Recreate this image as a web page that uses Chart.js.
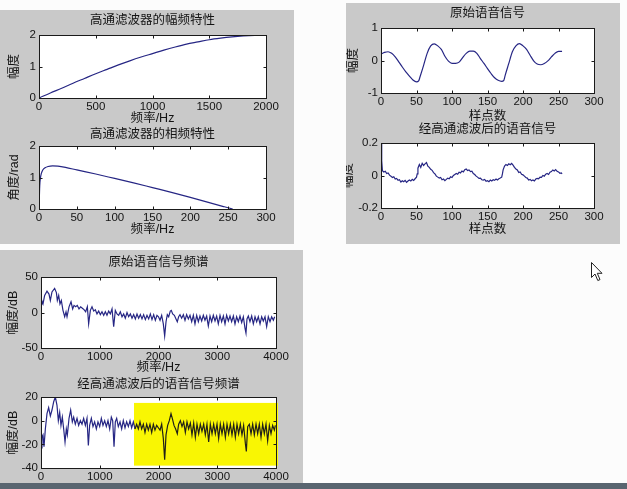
<!DOCTYPE html>
<html>
<head>
<meta charset="utf-8">
<script src="https://cdn.jsdelivr.net/npm/chart.js@4.4.1/dist/chart.umd.min.js"></script>
<style>
  html, body { margin: 0; padding: 0; background: #fcfcfc; }
  body { position: relative; width: 627px; height: 489px; overflow: hidden; }
  .panel { position: absolute; background: #c9c9c9; }
  canvas { position: absolute; }
  #taskbar { position: absolute; left: 0; top: 483px; width: 627px; height: 6px; background: #596570; }
  #pointer { position: absolute; left: 591px; top: 262px; }
</style>
</head>
<body>
<!-- three figure windows -->
<div class="panel" style="left:0;top:10px;width:294px;height:234px"></div>
<div class="panel" style="left:346px;top:3px;width:274px;height:241px"></div>
<div class="panel" style="left:0;top:250px;width:303px;height:233px"></div>

<canvas id="magChart"></canvas>
<canvas id="phaseChart"></canvas>
<canvas id="rawChart"></canvas>
<canvas id="filtChart"></canvas>
<canvas id="rawSpecChart"></canvas>
<canvas id="filtSpecChart"></canvas>

<div id="taskbar"></div>
<svg id="pointer" width="13" height="20" viewBox="0 0 13 20">
  <polygon points="0.5,0.5 0.5,15.5 4,12 6.8,18.5 9,17.6 6.3,11.3 11,11.3" fill="#fff" stroke="#222" stroke-width="1"/>
</svg>

<script>
// ---- 高通滤波器的幅频特性 ----
const magFreq = [0, 100, 200, 300, 400, 500, 600, 700, 800, 900, 1000,
                 1100, 1200, 1300, 1400, 1500, 1600, 1700, 1800, 1900, 2000];
const magGain = [0, 0.16, 0.31, 0.47, 0.62, 0.77, 0.91, 1.05, 1.18, 1.30, 1.41,
                 1.52, 1.62, 1.71, 1.78, 1.85, 1.90, 1.94, 1.97, 1.99, 2.0];

// ---- 高通滤波器的相频特性 ----
const phaseBin = [0, 1, 2, 3, 5, 8, 12, 18, 25, 35, 50, 75, 100, 125, 150, 175, 200, 225, 245, 256];
const phaseRad = [0, 0.75, 1.0, 1.12, 1.24, 1.31, 1.35, 1.37, 1.36, 1.32, 1.24, 1.11, 0.97, 0.83,
                  0.68, 0.53, 0.37, 0.2, 0.07, 0];

// ---- 原始语音信号 ----
const rawSample = [0, 5, 10, 15, 20, 25, 30, 35, 40, 45, 50, 53, 55, 60, 65, 70, 75, 80, 85, 90,
                   95, 100, 105, 110, 115, 120, 125, 130, 135, 140, 145, 150, 155, 160, 165, 170,
                   173, 175, 180, 185, 190, 195, 200, 205, 210, 215, 220, 225, 230, 235, 240, 245,
                   250, 255];
const rawValue = [0.2, 0.25, 0.27, 0.22, 0.11, -0.04, -0.2, -0.35, -0.48, -0.6, -0.66, -0.63,
                  -0.5, -0.15, 0.22, 0.45, 0.51, 0.45, 0.34, 0.13, -0.02, -0.09, -0.09, -0.05,
                  0.09, 0.22, 0.29, 0.29, 0.22, 0.06, -0.09, -0.25, -0.4, -0.53, -0.61, -0.64,
                  -0.61, -0.45, -0.09, 0.27, 0.45, 0.52, 0.45, 0.34, 0.16, -0.01, -0.11, -0.13,
                  -0.09, -0.01, 0.11, 0.22, 0.28, 0.28];

// ---- 经高通滤波后的语音信号 ----
const filtSample = [0, 1, 2, 4, 6, 8, 10, 12, 14, 16, 18, 20, 22, 24, 26, 28, 30, 32, 34, 36, 38,
                    40, 42, 44, 46, 48, 50, 51, 52, 54, 56, 58, 60, 62, 64, 66, 68, 70, 72, 74, 76,
                    78, 80, 82, 84, 86, 88, 90, 92, 94, 96, 98, 100, 102, 104, 106, 108, 110, 112,
                    114, 116, 118, 120, 122, 124, 126, 128, 130, 132, 134, 136, 138, 140, 142, 144,
                    146, 148, 150, 152, 154, 156, 158, 160, 162, 164, 166, 168, 170, 171, 172, 174,
                    176, 178, 180, 182, 184, 186, 188, 190, 192, 194, 196, 198, 200, 202, 204, 206,
                    208, 210, 212, 214, 216, 218, 220, 222, 224, 226, 228, 230, 232, 234, 236, 238,
                    240, 242, 244, 246, 248, 250, 252, 254, 255];
const filtValue = [0.2, 0.09, 0.03, 0.022, 0.026, 0.012, 0.016, 0.002, -0.004, -0.012, -0.008,
                   -0.022, -0.018, -0.03, -0.026, -0.04, -0.032, -0.038, -0.03, -0.042, -0.034,
                   -0.028, -0.034, -0.024, -0.03, -0.02, -0.01, 0.01, 0.045, 0.068, 0.05, 0.075,
                   0.062, 0.072, 0.08, 0.058, 0.05, 0.038, 0.032, 0.018, 0.01, -0.004, -0.01,
                   -0.016, -0.012, -0.026, -0.022, -0.032, -0.024, -0.016, -0.02, -0.008, -0.012,
                   0.0, 0.006, 0.012, 0.008, 0.02, 0.016, 0.028, 0.022, 0.036, 0.04, 0.03, 0.034,
                   0.024, 0.026, 0.012, 0.006, -0.004, -0.01, -0.018, -0.016, -0.026, -0.028,
                   -0.024, -0.036, -0.032, -0.038, -0.028, -0.034, -0.026, -0.03, -0.022, -0.028,
                   -0.02, -0.016, -0.01, 0.01, 0.035, 0.058, 0.068, 0.062, 0.072, 0.066, 0.074,
                   0.064, 0.05, 0.04, 0.034, 0.018, 0.022, 0.008, 0.004, -0.004, -0.012, -0.016,
                   -0.028, -0.024, -0.032, -0.028, -0.034, -0.022, -0.018, -0.02, -0.01, -0.012,
                   0.0, -0.004, 0.008, 0.012, 0.006, 0.02, 0.024, 0.034, 0.028, 0.036, 0.026,
                   0.022, 0.014, 0.016, 0.01];

// ---- 原始语音信号频谱 (dB) ----
const rawSpecFreq = [0, 17, 34, 62, 102, 136, 159, 187, 232, 262,
                     278, 301, 323, 346, 374, 403, 426, 443, 477, 511,
                     539, 562, 590, 618, 647, 675, 704, 732, 760, 789,
                     811, 840, 868, 897, 925, 953, 982, 1010, 1038, 1067,
                     1095, 1123, 1152, 1180, 1209, 1237, 1265, 1294, 1322, 1350,
                     1379, 1407, 1435, 1464, 1492, 1521, 1549, 1577, 1606, 1634,
                     1662, 1691, 1719, 1747, 1776, 1804, 1833, 1861, 1889, 1918,
                     1946, 1974, 2000, 2026, 2054, 2082, 2105, 2128, 2150, 2173,
                     2201, 2218, 2241, 2270, 2298, 2320, 2343, 2366, 2394, 2423,
                     2451, 2479, 2508, 2536, 2565, 2593, 2621, 2650, 2678, 2706,
                     2735, 2763, 2791, 2820, 2848, 2877, 2905, 2933, 2962, 2990,
                     3018, 3047, 3075, 3104, 3132, 3160, 3189, 3217, 3245, 3274,
                     3302, 3330, 3359, 3387, 3416, 3444, 3472, 3489, 3506, 3529,
                     3557, 3586, 3614, 3643, 3671, 3699, 3728, 3756, 3784, 3813,
                     3841, 3869, 3898, 3926, 3955, 3977];
const rawSpecDb = [12, 16, 12, 24, 30, 26, 17, 29, 34, 28,
                   17, 24, 12, 17, 3, -6, 1, -6, 8, 15,
                   5, 10, 8, 10, 5, 8, 6, 4, 1, 8,
                   -16, 3, 8, 2, 4, -2, 2, -3, 1, -4,
                   1, -4, 2, -2, 5, -20, 3, -2, -4, 1,
                   -6, -2, -8, 0, -6, -2, -8, -3, -9, -2,
                   -8, -3, -9, -3, -10, -4, -9, -2, -10, -3,
                   -11, -4, -6, -11, -4, -16, -33, -13, -3, -6,
                   2, 3, -2, -4, -9, -13, -6, -3, -8, -3,
                   -11, -3, -9, -4, -13, -4, -16, -4, -13, -5,
                   -12, -4, -11, -5, -19, -5, -13, -4, -12, -5,
                   -16, -4, -13, -5, -16, -4, -12, -5, -13, -5,
                   -16, -6, -13, -5, -14, -6, -22, -29, -9, -5,
                   -13, -5, -16, -6, -13, -6, -16, -6, -12, -6,
                   -20, -6, -13, -6, -11, -6];

// ---- 经高通滤波后的语音信号频谱 (dB) ----
const filtSpecFreq = [0, 17, 34, 51, 74, 102, 130, 159, 187, 216,
                      244, 272, 295, 318, 340, 363, 386, 409, 431, 448,
                      477, 505, 533, 556, 584, 613, 641, 670, 698, 726,
                      755, 783, 806, 828, 857, 885, 913, 942, 970, 999,
                      1027, 1055, 1084, 1112, 1140, 1169, 1197, 1220, 1243, 1265,
                      1288, 1316, 1345, 1373, 1401, 1430, 1458, 1487, 1515, 1543,
                      1572, 1600, 1628, 1657, 1685, 1713, 1742, 1770, 1799, 1827,
                      1855, 1884, 1912, 1940, 1969, 1997, 2026, 2054, 2082, 2105,
                      2128, 2156, 2184, 2213, 2235, 2264, 2292, 2320, 2343, 2372,
                      2400, 2428, 2457, 2485, 2513, 2542, 2570, 2599, 2627, 2655,
                      2684, 2712, 2740, 2769, 2797, 2825, 2854, 2882, 2911, 2939,
                      2967, 2996, 3024, 3052, 3081, 3109, 3138, 3166, 3194, 3223,
                      3251, 3280, 3308, 3336, 3364, 3393, 3421, 3449, 3478, 3495,
                      3518, 3546, 3575, 3603, 3631, 3660, 3688, 3716, 3745, 3773,
                      3801, 3830, 3858, 3887, 3915, 3943, 3972, 3989];
const filtSpecDb = [-23, -14, -12, -22, -7, 6, 11, 4, 9, 16,
                    20, 13, 0, 7, -4, 3, -7, -18, -7, -12,
                    2, 9, -1, 3, -3, 2, -4, 0, -3, 2,
                    -4, 2, -21, -4, 2, -5, -1, -7, -1, -5,
                    2, -4, 0, -5, 0, -7, 3, 0, -22, -1,
                    2, -5, -1, -7, 0, -6, -1, -5, 0, -6,
                    -1, -7, -3, -7, -1, -7, -3, -10, -3, -8,
                    -3, -10, -3, -8, -4, -6, -8, -3, -15, -33,
                    -12, -4, 0, 6, 2, -4, -7, -11, -3, 0,
                    -5, -1, -10, -1, -7, -2, -12, -2, -14, -3,
                    -11, -3, -9, -3, -12, -3, -18, -3, -11, -3,
                    -11, -3, -15, -3, -11, -3, -14, -3, -11, -3,
                    -12, -3, -14, -3, -11, -3, -12, -4, -19, -26,
                    -5, -3, -11, -3, -12, -3, -11, -3, -14, -3,
                    -11, -3, -17, -4, -11, -4, -8, -4];

// 高亮标记的频段 (Hz, dB)
const markedBand = { from: 1583, to: 4034, top: 15, bottom: -38 };

// ---------------- drawing ----------------
const TRACE = '#262684';
const MARKED_TRACE = '#202018';
const TICK_FAMILY = "'Liberation Sans Narrow','Arial Narrow','Liberation Sans',Arial,sans-serif";
const TEXT_FAMILY = "'Liberation Sans Narrow','Liberation Sans','Noto Sans CJK SC',sans-serif";
const TEXT_SIZE = 12.5;
const LINE_H = TEXT_SIZE * 1.2;
const INK = '#141414';

const pairs = (xs, ys) => xs.map((x, i) => ({ x, y: ys[i] }));
const fmt = v => String(Math.round(v * 100) / 100);

// white axes area, closed box and inward tick marks on all four sides
const axesBox = {
  id: 'axesBox',
  beforeDraw(chart) {
    const { ctx, chartArea: a } = chart;
    ctx.save();
    ctx.fillStyle = '#ffffff';
    ctx.fillRect(a.left, a.top, a.width, a.height);
    ctx.restore();
  },
  afterDraw(chart) {
    const { ctx, chartArea: a, scales: { x, y } } = chart;
    const len = 3;
    const L = Math.round(a.left) + 0.5, R = Math.round(a.right) + 0.5;
    const T = Math.round(a.top) + 0.5, B = Math.round(a.bottom) + 0.5;
    ctx.save();
    ctx.strokeStyle = '#1a1a1a';
    ctx.lineWidth = 1;
    ctx.beginPath();
    x.ticks.forEach(t => {
      const px = Math.round(x.getPixelForValue(t.value)) + 0.5;
      ctx.moveTo(px, B); ctx.lineTo(px, B - len);
      ctx.moveTo(px, T); ctx.lineTo(px, T + len);
    });
    y.ticks.forEach(t => {
      const py = Math.round(y.getPixelForValue(t.value)) + 0.5;
      ctx.moveTo(L, py); ctx.lineTo(L + len, py);
      ctx.moveTo(R, py); ctx.lineTo(R - len, py);
    });
    ctx.stroke();
    ctx.strokeRect(L, T, R - L, B - T);
    ctx.restore();
  }
};

// yellow marker box behind the trace
const bandMarker = {
  id: 'bandMarker',
  beforeDatasetsDraw(chart) {
    const { ctx, scales: { x, y } } = chart;
    const x0 = x.getPixelForValue(markedBand.from), x1 = x.getPixelForValue(markedBand.to);
    const y0 = y.getPixelForValue(markedBand.top), y1 = y.getPixelForValue(markedBand.bottom);
    ctx.save();
    ctx.fillStyle = '#f9f603';
    ctx.fillRect(x0, y0, x1 - x0, y1 - y0);
    ctx.restore();
  }
};

function drawPlot(spec) {
  const top = Math.floor(spec.titleY - LINE_H / 2 - 1);
  const bottom = Math.ceil(spec.xTitleY + LINE_H / 2 + 1);
  const [cx, cr] = spec.span;
  const [L, T, R, B] = spec.plot;
  const canvas = document.getElementById(spec.id);
  canvas.width = cr - cx;
  canvas.height = bottom - top;
  canvas.style.left = cx + 'px';
  canvas.style.top = top + 'px';
  const titleTop = spec.titleY - LINE_H / 2 - top;
  const tickFont = { family: TICK_FAMILY, size: 11.5, lineHeight: 1.2 };
  const textFont = { family: TEXT_FAMILY, size: TEXT_SIZE, weight: 'normal', lineHeight: 1.2 };

  return new Chart(canvas, {
    type: 'line',
    data: {
      datasets: [{
        data: spec.points,
        borderColor: TRACE,
        borderWidth: 1.2,
        pointRadius: 0,
        fill: false,
        tension: spec.smooth ? 0.4 : 0,
        cubicInterpolationMode: spec.smooth ? 'monotone' : 'default',
        segment: spec.segment
      }]
    },
    options: {
      responsive: false,
      animation: false,
      devicePixelRatio: 1,
      events: [],
      layout: { padding: { left: 0, top: 0, bottom: 0, right: cr - R } },
      plugins: {
        legend: { display: false },
        tooltip: { enabled: false },
        title: {
          display: true, text: spec.title, fullSize: false, color: INK, font: textFont,
          padding: { top: titleTop, bottom: (T - top) - titleTop - LINE_H }
        }
      },
      scales: {
        x: {
          type: 'linear', min: spec.x[0], max: spec.x[1],
          ticks: { stepSize: spec.x[2], callback: fmt, font: tickFont, color: INK, padding: 2,
                   maxRotation: 0, autoSkip: false },
          grid: { display: false, drawTicks: false },
          border: { display: false },
          title: { display: true, text: spec.xTitle, color: INK, font: textFont,
                   padding: { top: 0, bottom: bottom - spec.xTitleY - LINE_H / 2 } },
          afterFit: s => { s.height = bottom - B; }
        },
        y: {
          type: 'linear', min: spec.y[0], max: spec.y[1],
          ticks: { stepSize: spec.y[2], callback: fmt, font: tickFont, color: INK, padding: 3,
                   autoSkip: false },
          grid: { display: false, drawTicks: false },
          border: { display: false },
          title: { display: true, text: spec.yTitle, color: INK, font: textFont,
                   padding: { top: spec.yTitleX - cx - LINE_H / 2, bottom: 0 } },
          afterFit: s => { s.width = L - cx; }
        }
      }
    },
    plugins: spec.marked ? [axesBox, bandMarker] : [axesBox]
  });
}

drawPlot({
  id: 'magChart', span: [0, 294], plot: [39, 35, 266, 98],
  titleY: 21, xTitleY: 119, yTitleX: 15,
  title: '高通滤波器的幅频特性', xTitle: '频率/Hz', yTitle: '幅度',
  x: [0, 2000, 500], y: [0, 2, 1], smooth: true,
  points: pairs(magFreq, magGain)
});

drawPlot({
  id: 'phaseChart', span: [0, 294], plot: [39, 146, 266, 209],
  titleY: 134.5, xTitleY: 230, yTitleX: 15,
  title: '高通滤波器的相频特性', xTitle: '频率/Hz', yTitle: '角度/rad',
  x: [0, 300, 50], y: [0, 2, 1], smooth: true,
  points: pairs(phaseBin, phaseRad)
});

drawPlot({
  id: 'rawChart', span: [346, 620], plot: [381, 28, 594, 93],
  titleY: 14, xTitleY: 116.5, yTitleX: 354,
  title: '原始语音信号', xTitle: '样点数', yTitle: '幅度',
  x: [0, 300, 50], y: [-1, 1, 1], smooth: true,
  points: pairs(rawSample, rawValue)
});

drawPlot({
  id: 'filtChart', span: [346, 620], plot: [381, 143, 594, 208],
  titleY: 130, xTitleY: 230, yTitleX: 349,
  title: '经高通滤波后的语音信号', xTitle: '样点数', yTitle: '幅度',
  x: [0, 300, 50], y: [-0.2, 0.2, 0.2], smooth: false,
  points: pairs(filtSample, filtValue)
});

drawPlot({
  id: 'rawSpecChart', span: [0, 303], plot: [41, 277, 276, 348],
  titleY: 263, xTitleY: 368, yTitleX: 14,
  title: '原始语音信号频谱', xTitle: '频率/Hz', yTitle: '幅度/dB',
  x: [0, 4000, 1000], y: [-50, 50, 50], smooth: false,
  points: pairs(rawSpecFreq, rawSpecDb)
});

// the lower window is cut by the bottom bar, so its x-axis title sits below the visible edge
drawPlot({
  id: 'filtSpecChart', span: [0, 303], plot: [41, 397, 276, 468],
  titleY: 385, xTitleY: 495, yTitleX: 14,
  title: '经高通滤波后的语音信号频谱', xTitle: '频率/Hz', yTitle: '幅度/dB',
  x: [0, 4000, 1000], y: [-40, 20, 20], smooth: false,
  points: pairs(filtSpecFreq, filtSpecDb),
  marked: true,
  segment: { borderColor: c => (c.p0.parsed.x >= markedBand.from ? MARKED_TRACE : undefined) }
});
</script>
</body>
</html>
